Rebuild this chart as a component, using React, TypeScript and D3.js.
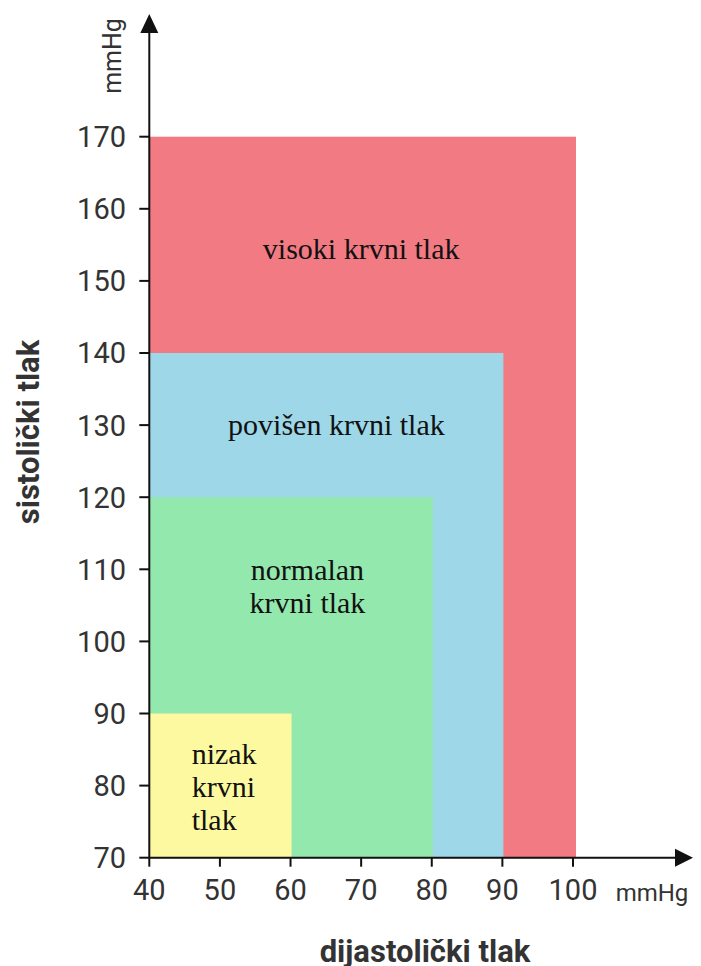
import * as d3 from "d3";

// blood pressure zones, drawn largest first
const zones = ["visoki krvni tlak", "povišen krvni tlak", "normalan krvni tlak", "nizak krvni tlak"];
const zoneLines = [["visoki krvni tlak"], ["povišen krvni tlak"], ["normalan", "krvni tlak"], ["nizak", "krvni", "tlak"]];
const diastolicMax = [100, 90, 80, 60];
const systolicMax = [170, 140, 120, 90];
const zoneColors = ["#f27a82", "#9dd7e8", "#93e8ad", "#fcf9a0"];
// label anchors in data units
const labelDia = [70, 66.5, 62.4, 46];
const labelSys = [154.4, 130, 107.5, 79.8];
const labelAlign = ["middle", "middle", "middle", "start"];

const xTicks = [40, 50, 60, 70, 80, 90, 100];
const yTicks = [70, 80, 90, 100, 110, 120, 130, 140, 150, 160, 170];

const W = 701;
const H = 966;

export default function App() {
  const x = d3.scaleLinear().domain([40, 100]).range([149.3, 573]);
  const y = d3.scaleLinear().domain([70, 170]).range([857.7, 136.7]);
  const x0 = x(40);
  const y0 = y(70);
  const sans = "Roboto, 'Noto Sans', sans-serif";
  const serif = "'Liberation Serif', 'Times New Roman', serif";

  return (
    <svg
      width={W}
      height={H}
      style={{ position: "absolute", left: 0, top: 0, background: "#fff" }}
    >
      {/* zones */}
      {zones.map((z, i) => (
        <rect
          key={z}
          x={x0}
          y={y(systolicMax[i])}
          width={x(diastolicMax[i]) - x0 + (i === 0 ? 3 : 1)}
          height={y0 - y(systolicMax[i])}
          fill={zoneColors[i]}
        />
      ))}

      {/* zone labels */}
      {zones.map((z, i) => {
        const lines = zoneLines[i];
        const lh = 33;
        const top = y(labelSys[i]) - ((lines.length - 1) * lh) / 2;
        return (
          <text
            key={z + "-l"}
            x={x(labelDia[i])}
            textAnchor={labelAlign[i] as any}
            fontFamily={serif}
            fontSize={30}
            fill="#111"
          >
            {lines.map((l, j) => (
              <tspan key={j} x={x(labelDia[i])} y={top + j * lh} dy="0.32em">
                {l}
              </tspan>
            ))}
          </text>
        );
      })}

      {/* y axis */}
      <line x1={x0} x2={x0} y1={y0} y2={30} stroke="#111" strokeWidth={2} />
      <path d={`M${x0},14 L${x0 - 9},33 L${x0 + 9},33 Z`} fill="#111" />
      {yTicks.map((t) => (
        <g key={t}>
          <line x1={x0 - 10} x2={x0} y1={y(t)} y2={y(t)} stroke="#111" strokeWidth={2} />
          <text
            x={126}
            y={y(t)}
            dy="0.36em"
            textAnchor="end"
            fontFamily={sans}
            fontSize={29}
            fill="#333"
          >
            {t}
          </text>
        </g>
      ))}

      {/* x axis */}
      <line x1={x0} x2={678} y1={y0} y2={y0} stroke="#111" strokeWidth={2} />
      <path d={`M693,${y0} L675,${y0 - 9} L675,${y0 + 9} Z`} fill="#111" />
      {xTicks.map((t) => (
        <g key={t}>
          <line x1={x(t)} x2={x(t)} y1={y0} y2={y0 + 9} stroke="#111" strokeWidth={2} />
          <text
            x={x(t)}
            y={890}
            dy="0.36em"
            textAnchor="middle"
            fontFamily={sans}
            fontSize={29}
            fill="#333"
          >
            {t}
          </text>
        </g>
      ))}

      {/* units */}
      <text x={652} y={892} dy="0.36em" textAnchor="middle" fontFamily={sans} fontSize={24} fill="#333">
        mmHg
      </text>
      <text
        transform={`translate(112,56) rotate(-90)`}
        dy="0.36em"
        textAnchor="middle"
        fontFamily={sans}
        fontSize={25}
        fill="#333"
      >
        mmHg
      </text>

      {/* axis titles */}
      <text
        transform={`translate(28,432) rotate(-90)`}
        dy="0.36em"
        textAnchor="middle"
        fontFamily={sans}
        fontSize={31}
        fontWeight="bold"
        fill="#333"
      >
        sistolički tlak
      </text>
      <text
        x={425}
        y={962}
        textAnchor="middle"
        fontFamily={sans}
        fontSize={31}
        fontWeight="bold"
        fill="#333"
      >
        dijastolički tlak
      </text>
    </svg>
  );
}
